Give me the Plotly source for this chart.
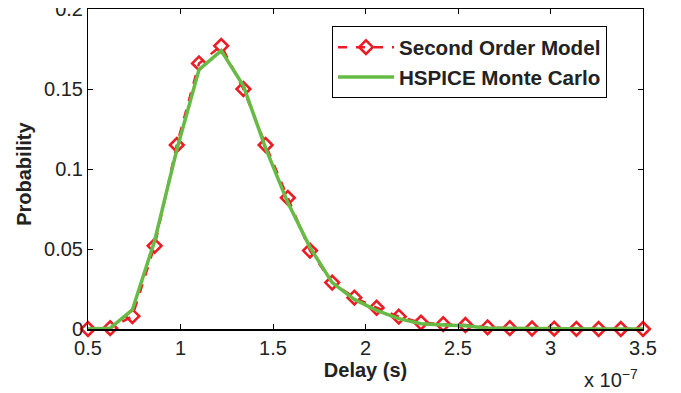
import plotly.graph_objects as go

# Delay values (units of 1e-7 s)
delay = [0.5, 0.62, 0.74, 0.86, 0.98, 1.10, 1.22, 1.34, 1.46, 1.58, 1.70, 1.82, 1.94,
         2.06, 2.18, 2.30, 2.42, 2.54, 2.66, 2.78, 2.90, 3.02, 3.14, 3.26, 3.38, 3.50]

second_order = [0.0, 0.0005, 0.008, 0.052, 0.115, 0.166, 0.177, 0.150, 0.115, 0.082,
                0.049, 0.029, 0.0196, 0.0133, 0.0077, 0.004, 0.003, 0.0025, 0.001,
                0.0005, 0.0003, 0.0002, 0.0001, 0.0, 0.0, 0.0]

hspice_mc = [0.0, 0.0005, 0.012, 0.055, 0.112, 0.162, 0.174, 0.152, 0.113, 0.079,
             0.051, 0.029, 0.0185, 0.0117, 0.0065, 0.0033, 0.0025, 0.002, 0.0005,
             0.0003, 0.0002, 0.0001, 0.0, 0.0, 0.0, 0.0]

x_ticks = [0.5, 1, 1.5, 2, 2.5, 3, 3.5]
y_ticks = [0, 0.05, 0.1, 0.15, 0.2]
y_ticktext = ["0", "0.05", "0.1", "0.15", "0.2"]

RED = "#ed1c24"
GREEN = "#66bb44"
FONT = "Liberation Sans, Arial, sans-serif"

fig = go.Figure()
fig.add_trace(go.Scatter(
    x=delay, y=second_order, mode="lines+markers", name="<b>Second Order Model</b>",
    line=dict(color=RED, width=2.5, dash="dash"),
    marker=dict(symbol="diamond-open", size=10.5, color=RED, line=dict(width=2.6, color=RED)),
    cliponaxis=False,
))
fig.add_trace(go.Scatter(
    x=delay, y=hspice_mc, mode="lines", name="<b>HSPICE Monte Carlo</b>",
    line=dict(color=GREEN, width=3.5),
    cliponaxis=False,
))

axis_common = dict(
    showgrid=False, zeroline=False, showline=True, mirror="ticks",
    linecolor="black", ticks="inside", ticklen=5, tickcolor="black",
    tickfont=dict(family=FONT, size=20, color="#222222"),
    automargin=False, ticklabeloverflow="allow",
)

fig.update_layout(
    width=673, height=385,
    margin=dict(l=80, r=38, t=1, b=64),
    paper_bgcolor="white", plot_bgcolor="white",
    font=dict(family=FONT, color="#222222"),
    xaxis=dict(range=[0.5, 3.5], tickvals=x_ticks, linewidth=2,
               title=dict(text="<b>Delay (s)</b>", font=dict(family=FONT, size=20), standoff=2),
               **axis_common),
    yaxis=dict(range=[0, 0.2], tickvals=y_ticks, ticktext=y_ticktext, linewidth=1,
               **axis_common),
    legend=dict(x=0.4396, y=0.946, xanchor="left", yanchor="top",
                bgcolor="white", bordercolor="black", borderwidth=1,
                font=dict(family=FONT, size=20.6, color="#222222"),
                itemwidth=56, tracegroupgap=0),
    showlegend=True,
    annotations=[
        dict(text="x 10<sup>−7</sup>", xref="paper", yref="paper", x=0.9946, y=-0.11,
             xanchor="right", yanchor="top", showarrow=False,
             font=dict(family=FONT, size=20, color="#222222")),
        dict(text="<b>Probability</b>", xref="paper", yref="paper", x=-0.1153, y=0.485,
             xanchor="center", yanchor="middle", textangle=-90, showarrow=False,
             font=dict(family=FONT, size=20, color="#222222")),
    ],
)

fig.write_html("out.html")
